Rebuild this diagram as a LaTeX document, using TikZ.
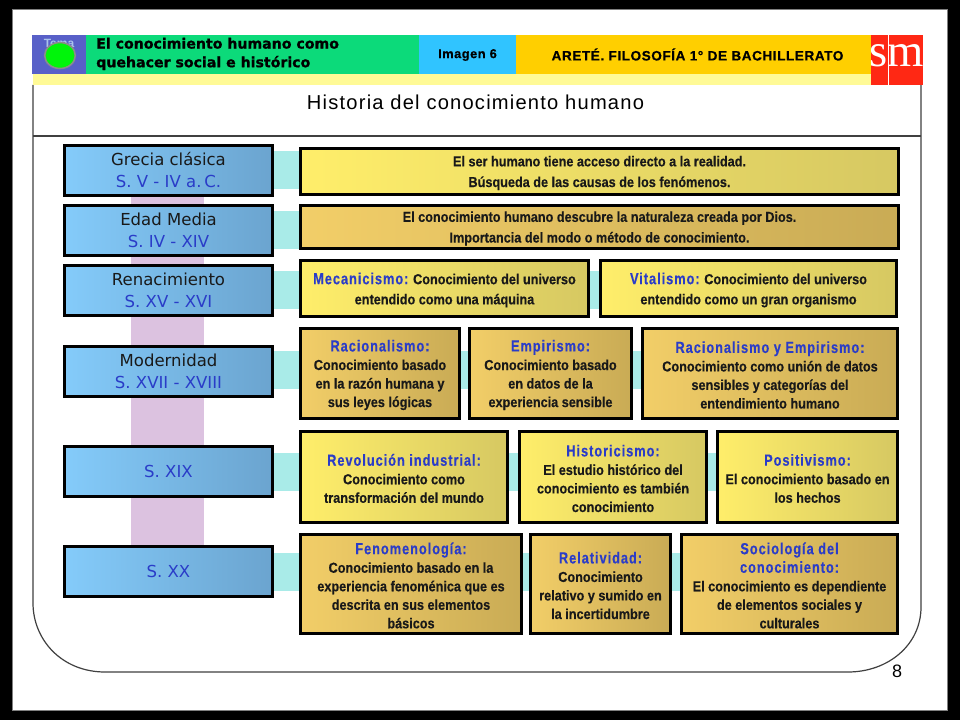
\documentclass[tikz,border=0pt]{standalone}
\usepackage{fontspec}
\setmainfont{Liberation Sans}
\newfontfamily\bodyf[FakeStretch=0.88,FakeBold=0.3]{Liberation Sans Bold}
\newfontfamily\titf[FakeStretch=0.80,LetterSpace=6,FakeBold=0.3]{Liberation Sans Bold}
\newfontfamily\verd{DejaVu Sans}
\newfontfamily\headf[FakeBold=1]{DejaVu Sans Bold}
\newfontfamily\headw[LetterSpace=4,FakeBold=0.6]{Liberation Sans Bold}
\newfontfamily\bigt[LetterSpace=6]{Liberation Sans}
\newfontfamily\serf{Liberation Serif}
\usetikzlibrary{backgrounds,shapes.geometric}
\definecolor{bluet}{HTML}{2A3CC8}
\definecolor{tealb}{HTML}{A9EBE8}
\definecolor{purp}{HTML}{DCC2E0}
\definecolor{HL}{HTML}{84CBFA}\definecolor{HR}{HTML}{6BA4CF}
\definecolor{YL}{HTML}{FFEE6A}\definecolor{YR}{HTML}{D6C862}
\definecolor{GL}{HTML}{F2CE68}\definecolor{GR}{HTML}{C9AB55}
\definecolor{cgreen}{RGB}{12,218,122}
\definecolor{cpurple}{RGB}{88,96,200}
\definecolor{cblue}{RGB}{48,196,255}
\definecolor{corange}{RGB}{255,207,0}
\definecolor{cred}{RGB}{255,40,20}
\definecolor{cstrip}{RGB}{255,250,150}
\definecolor{cdot}{RGB}{0,245,10}
\newcommand{\bx}[7]{\node[#6,minimum width={(#4-#2-3)*0.75pt},minimum height={(#5-#3-3)*0.75pt}] (#1) at ({(#2+#4)/2},{(#3+#5)/2}) {#7};}
\newcommand{\bxr}[7]{\node[#6,minimum width={(#4-#2-3)*0.75pt},minimum height={(#5-#3-3)*0.75pt}] (#1) at ({(#2+#4)/2},{(#3+#5)/2}) {};
  \node[txtn] (#1t) at ([yshift=-1.1pt]#1.center) {#7};}
\newcommand{\tit}[1]{{\color{bluet}\titf\fontsize{12}{16.5}\selectfont #1}}
\tikzset{
  box/.style={draw=black,line width=2pt,inner sep=0pt,align=center},
  lbox/.style={box,left color=HL,right color=HR,text=black!90,font=\verd\fontsize{12.4}{16.5}\selectfont},
  ybox/.style={box,left color=YL,right color=YR},
  gbox/.style={box,left color=GL,right color=GR},
  txtn/.style={inner sep=0pt,align=center,text=black!90,font=\bodyf\fontsize{10.8}{13.9}\selectfont},
  band/.style={inner sep=0pt,align=center},
  headtxt/.style={font=\headf\fontsize{10.6}{14}\selectfont,align=left,text=black},
  tealbar/.style={tealb,line width=28.5pt},
  rule/.style={black!75,line width=0.9pt},
}
\begin{document}
\begin{tikzpicture}[x=0.75pt,y=-0.75pt]
\useasboundingbox (0,0) rectangle (960,720);
\begin{scope}[on background layer]
\fill[black] (0,0) rectangle (960,720);
\fill[white,draw=gray,line width=0.6pt] (12,9) rectangle (947,710);
\draw[rule] (33,85) -- (33,603) .. controls (33,640) and (62,672) .. (105,672) -- (848,672) .. controls (888,672) and (921,645) .. (921,607) -- (921,85);
\draw[rule] (33,136) -- (921,136);
\fill[cstrip] (33,74) rectangle (871,85);
\end{scope}
% header
\node[band,fill=cgreen,minimum width=250pt,minimum height=29.25pt] (hgreen) at (252.5,54.5) {};
\node[band,fill=cpurple,minimum width=40.5pt,minimum height=29.25pt] (hpurple) at (59,54.5) {};
\node[font=\bfseries\fontsize{9}{9}\selectfont,text={rgb,255:red,170;green,195;blue,235},inner sep=0pt] (tema) at (59,43) {Tema};
\node[ellipse,draw=gray!90,line width=1.2pt,fill=cdot,minimum width=23pt,minimum height=19.5pt,inner sep=0pt] (dot) at (60,55.5) {};
\node[band,fill=cblue,minimum width=72.75pt,minimum height=29.25pt] (hblue) at (467.5,54.5) {};
\node[band,fill=corange,minimum width=266.25pt,minimum height=29.25pt] (horange) at (693.5,54.5) {};
\node[band,fill=cred,minimum width=12.4pt,minimum height=37.5pt] (sa) at (879.5,60) {};
\node[band,fill=cred,minimum width=25.8pt,minimum height=37.5pt] (sb) at (906,60) {};
\node[anchor=base,font=\serf\fontsize{35}{35}\selectfont,text=white,inner sep=0pt] (smt) at (897,67) {sm};
\node[headtxt,anchor=west,inner sep=0pt] (h1) at (96,54) {El conocimiento humano como\\quehacer social e histórico};
\node[font=\headw\fontsize{9.6}{10}\selectfont,inner sep=0pt] (h2) at (467.5,55) {Imagen 6};
\node[font=\headw\fontsize{10.2}{12}\selectfont,inner sep=0pt] (h3) at (697.5,54.5) {ARETÉ. FILOSOFÍA 1° DE BACHILLERATO};
\node[font=\bigt\fontsize{15.1}{16}\selectfont,inner sep=0pt] (title) at (475.5,102) {Historia del conocimiento humano};
\node[font=\fontsize{13.5}{16}\selectfont,inner sep=0pt] (pg) at (897,671) {8};
% era boxes
\bx{e1}{63}{144}{274}{197}{lbox}{Grecia clásica\\{\color{bluet}S. V - IV a.\,C.}}
\bx{e2}{63}{204}{274}{257}{lbox}{Edad Media\\{\color{bluet}S. IV - XIV}}
\bx{e3}{63}{264}{274}{317}{lbox}{Renacimiento\\{\color{bluet}S. XV - XVI}}
\bx{e4}{63}{345}{274}{398}{lbox}{Modernidad\\{\color{bluet}S. XVII - XVIII}}
\bx{e5}{63}{445}{274}{498}{lbox}{{\color{bluet}S. XIX}}
\bx{e6}{63}{545}{274}{598}{lbox}{{\color{bluet}S. XX}}
% content
\bxr{r1}{299}{147}{900}{196}{ybox}{El ser humano tiene acceso directo a la realidad.\\[1.6pt]Búsqueda de las causas de los fenómenos.}
\bxr{r2}{299}{204}{900}{250}{gbox}{El conocimiento humano descubre la naturaleza creada por Dios.\\[1.6pt]Importancia del modo o método de conocimiento.}
\bxr{r3a}{299}{259}{590}{318}{ybox}{\tit{Mecanicismo:} Conocimiento del universo\\[1.2pt]entendido como una máquina}
\bxr{r3b}{599}{259}{898}{318}{ybox}{\tit{Vitalismo:} Conocimiento del universo\\[1.2pt]entendido como un gran organismo}
\bxr{r4a}{299}{327}{461}{420}{gbox}{\tit{Racionalismo:}\\Conocimiento basado\\en la razón humana y\\sus leyes lógicas}
\bxr{r4b}{468}{327}{633}{420}{gbox}{\tit{Empirismo:}\\Conocimiento basado\\en datos de la\\experiencia sensible}
\bxr{r4c}{641}{327}{899}{420}{gbox}{\tit{Racionalismo y Empirismo:}\\Conocimiento como unión de datos\\sensibles y categorías del\\entendimiento humano}
\bxr{r5a}{299}{430}{509}{524}{ybox}{\tit{Revolución industrial:}\\Conocimiento como\\transformación del mundo}
\bxr{r5b}{518}{430}{708}{524}{ybox}{\tit{Historicismo:}\\El estudio histórico del\\conocimiento es también\\conocimiento}
\bxr{r5c}{716}{430}{899}{524}{ybox}{\tit{Positivismo:}\\El conocimiento basado en\\los hechos}
\bxr{r6a}{299}{533}{523}{635}{gbox}{\tit{Fenomenología:}\\Conocimiento basado en la\\experiencia fenoménica que es\\descrita en sus elementos\\básicos}
\bxr{r6b}{529}{533}{672}{635}{gbox}{\tit{Relatividad:}\\Conocimiento\\relativo y sumido en\\la incertidumbre}
\bxr{r6c}{680}{533}{899}{635}{gbox}{\tit{Sociología del}\\\tit{conocimiento:}\\El conocimiento es dependiente\\de elementos sociales y\\culturales}
% connectors behind the boxes
\begin{scope}[on background layer]
\draw[purp,line width=54.75pt] (e1.south) ++(-1,0) -- (e6.north -| 167.5,0);
\draw[tealbar] (e1.east) -- (r1.west |- e1.east);
\draw[tealbar] (e2.east) -- (r2.west |- e2.east);
\draw[tealbar] (e3.east) -- (r3b.west |- e3.east);
\draw[tealbar] ([yshift=1pt]e4.east) -- ([yshift=1pt]r4c.west |- e4.east);
\draw[tealbar] (e5.east) -- (r5c.west |- e5.east);
\draw[tealbar] (e6.east) -- (r6c.west |- e6.east);
\end{scope}
\end{tikzpicture}
\end{document}
